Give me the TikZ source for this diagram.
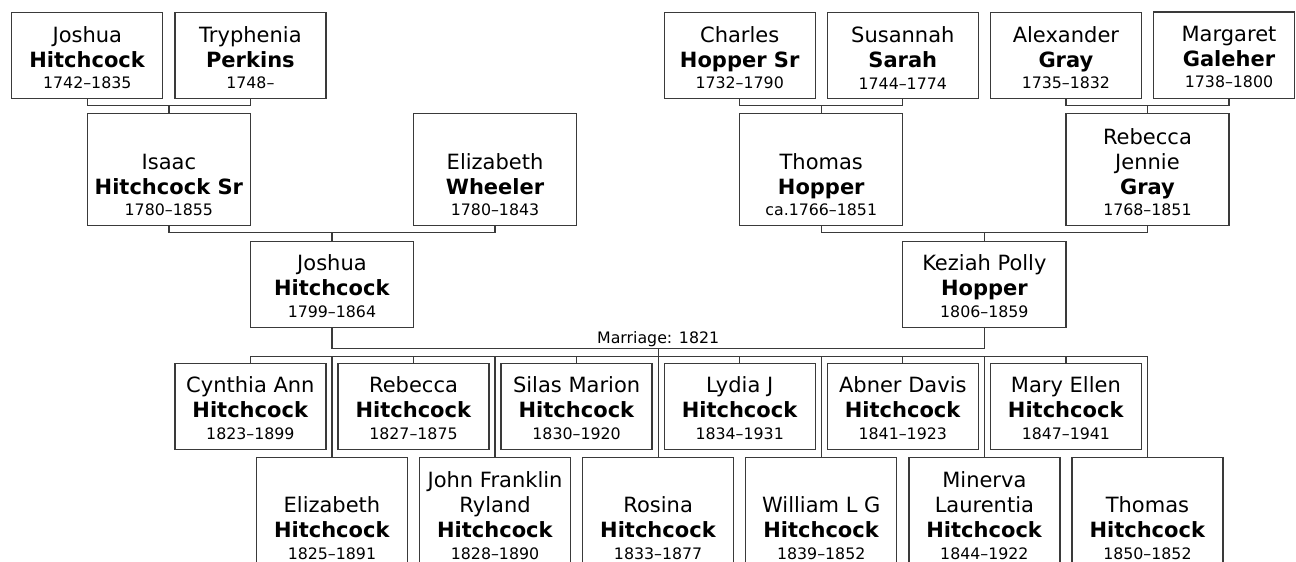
\documentclass[tikz,border=0pt]{standalone}
\usepackage{fontspec}
\setmainfont{DejaVu Sans}
\usetikzlibrary{calc}
\definecolor{edge}{HTML}{3A3A3A}
\newcommand\nmfont{\fontsize{21}{25}\selectfont}
\newcommand\dtfont{\fontsize{15.8}{25}\selectfont}
\newcommand\lbfont{\fontsize{15.8}{20}\selectfont}
% #1 name, #2 grid index, #3 top, #4 width, #5 height, #6 text
\newcommand\pp[6]{%
  \node[pbox, minimum width=#4pt, minimum height=#5pt, anchor=north] (#1) at ({87.3+81.55*#2},#3) {};
  \node[ptext] (#1-t) at ([yshift=10pt]#1.south) {#6};
}
\tikzset{
  pbox/.style={draw=edge, line width=1.3pt, fill=white, inner sep=0pt},
  ptext/.style={anchor=south, inner sep=0pt, align=center, font=\nmfont, text=black},
  link/.style={draw=edge, line width=1.3pt},
  mlabel/.style={font=\lbfont, inner sep=0pt, anchor=base, text=black}
}
\begin{document}
\begin{tikzpicture}[x=1pt,y=-1pt]
\useasboundingbox (0,0) rectangle (1296,562);
\fill[white] (0,0) rectangle (1296,562);
\clip (0,0) rectangle (1296,562);
% generation 1
\pp{j1}{0}{12}{151}{86}{Joshua\\\textbf{Hitchcock}\\[-3.5pt]{\dtfont 1742--1835}}
\pp{tp}{2}{12}{151}{86}{Tryphenia\\\textbf{Perkins}\\[-3.5pt]{\dtfont 1748--}}
\pp{ch}{8}{12}{151}{86}{Charles\\\textbf{Hopper Sr}\\[-3.5pt]{\dtfont 1732--1790}}
\pp{su}{10}{12}{151}{86}{Susannah\\\textbf{Sarah}\\[-3.5pt]{\dtfont 1744--1774}}
\pp{al}{12}{12}{151}{86}{Alexander\\\textbf{Gray}\\[-3.5pt]{\dtfont 1735--1832}}
\node[inner sep=0pt, minimum width=151pt, minimum height=86pt, anchor=north] (mg) at ({87.3+81.55*14},12) {};
\draw[pbox] (mg.south west) rectangle ([xshift=-10pt]mg.north east);
\node[ptext] (mg-t) at ([yshift=10pt]mg.south) {Margaret\\\textbf{Galeher}\\[-3.5pt]{\dtfont 1738--1800}};
% generation 2
\pp{is}{1}{113}{163.1}{112}{Isaac\\\textbf{Hitchcock Sr}\\[-3.5pt]{\dtfont 1780--1855}}
\pp{ew}{5}{113}{163.1}{112}{Elizabeth\\\textbf{Wheeler}\\[-3.5pt]{\dtfont 1780--1843}}
\pp{th}{9}{113}{163.1}{112}{Thomas\\\textbf{Hopper}\\[-3.5pt]{\dtfont ca.1766--1851}}
\pp{rj}{13}{113}{163.1}{112}{Rebecca\\Jennie\\\textbf{Gray}\\[-3.5pt]{\dtfont 1768--1851}}
% generation 3
\pp{jh}{3}{240.5}{163.1}{86}{Joshua\\\textbf{Hitchcock}\\[-3.5pt]{\dtfont 1799--1864}}
\pp{kz}{11}{240.5}{163.1}{86}{Keziah Polly\\\textbf{Hopper}\\[-3.5pt]{\dtfont 1806--1859}}
% children, upper row
\pp{c1}{2}{362.5}{151}{86}{Cynthia Ann\\\textbf{Hitchcock}\\[-3.5pt]{\dtfont 1823--1899}}
\pp{c3}{4}{362.5}{151}{86}{Rebecca\\\textbf{Hitchcock}\\[-3.5pt]{\dtfont 1827--1875}}
\pp{c5}{6}{362.5}{151}{86}{Silas Marion\\\textbf{Hitchcock}\\[-3.5pt]{\dtfont 1830--1920}}
\pp{c7}{8}{362.5}{151}{86}{Lydia J\\\textbf{Hitchcock}\\[-3.5pt]{\dtfont 1834--1931}}
\pp{c9}{10}{362.5}{151}{86}{Abner Davis\\\textbf{Hitchcock}\\[-3.5pt]{\dtfont 1841--1923}}
\pp{c11}{12}{362.5}{151}{86}{Mary Ellen\\\textbf{Hitchcock}\\[-3.5pt]{\dtfont 1847--1941}}
% children, lower row
\pp{c2}{3}{456.5}{151}{112}{Elizabeth\\\textbf{Hitchcock}\\[-3.5pt]{\dtfont 1825--1891}}
\pp{c4}{5}{456.5}{151}{112}{John Franklin\\Ryland\\\textbf{Hitchcock}\\[-3.5pt]{\dtfont 1828--1890}}
\pp{c6}{7}{456.5}{151}{112}{Rosina\\\textbf{Hitchcock}\\[-3.5pt]{\dtfont 1833--1877}}
\pp{c8}{9}{456.5}{151}{112}{William L G\\\textbf{Hitchcock}\\[-3.5pt]{\dtfont 1839--1852}}
\pp{c10}{11}{456.5}{151}{112}{Minerva\\Laurentia\\\textbf{Hitchcock}\\[-3.5pt]{\dtfont 1844--1922}}
\pp{c12}{13}{456.5}{151}{112}{Thomas\\\textbf{Hitchcock}\\[-3.5pt]{\dtfont 1850--1852}}
% parent brackets
\draw[link] (j1.south) |- ($(is.north)+(0,-7.5)$) -| (tp.south);
\draw[link] (is.north) -- ++(0,-7.5);
\draw[link] (ch.south) |- ($(th.north)+(0,-7.5)$) -| (su.south);
\draw[link] (th.north) -- ++(0,-7.5);
\draw[link] (al.south) |- ($(rj.north)+(0,-7.5)$) -| (mg.south);
\draw[link] (rj.north) -- ++(0,-7.5);
\draw[link] (is.south) |- ($(jh.north)+(0,-8)$) -| (ew.south);
\draw[link] (jh.north) -- ++(0,-8);
\draw[link] (th.south) |- ($(kz.north)+(0,-8)$) -| (rj.south);
\draw[link] (kz.north) -- ++(0,-8);
% marriage
\draw[link] (jh.south) -- ++(0,20.5) -| (kz.south);
\coordinate (mid) at ($($(jh.south)!0.5!(kz.south)$)+(0,20.5)$);
\coordinate (sib) at ($(mid)+(0,8)$);
\draw[link] (mid) -- (sib);
\node[mlabel] (mlab) at ($(mid)+(0,-4.5)$) {Marriage: 1821};
% sibling bar
\draw[link] (c1.north |- sib) -- (c12.north |- sib);
\foreach \c in {c1,c2,c3,c4,c5,c6,c7,c8,c9,c10,c11,c12}
  \draw[link] (\c.north) -- (\c.north |- sib);
\end{tikzpicture}
\end{document}
